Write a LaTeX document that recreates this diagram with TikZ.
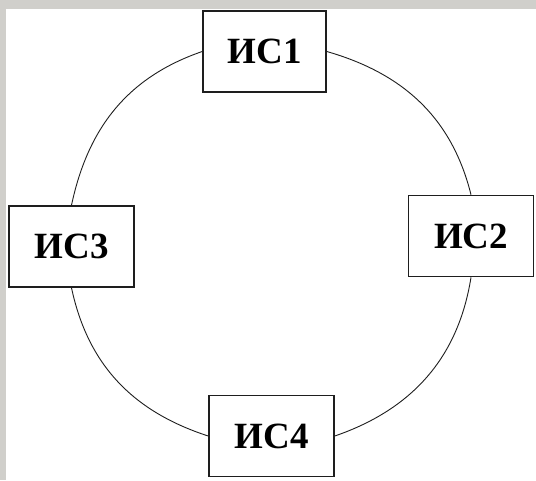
\documentclass[tikz,border=0pt]{standalone}
\usepackage{fontspec}
\setmainfont{Liberation Serif}
\usepackage{tikz}
\usetikzlibrary{positioning}
\definecolor{framegray}{RGB}{208,207,203}
\definecolor{linegray}{RGB}{30,30,30}

\begin{document}
\begin{tikzpicture}[x=1pt, y=-1pt,
        isbox/.style={draw=linegray, line width=1.6pt, fill=white, minimum width=125pt, minimum height=81pt, inner sep=0pt, font=\fontsize{37}{42}\selectfont\bfseries},
        ring/.style={draw=linegray, line width=0.9pt}]
        \useasboundingbox (0,0) rectangle (536,480);
        \fill[framegray] (0,0) rectangle (536,480);
        \fill[white] (6,9) rectangle (536,480);

        \node[isbox, minimum width=123pt] (is1) at (264.5,51.5) {ИС1};
        \node[isbox] (is2) at (471,236) {ИС2};
        \node[isbox] (is3) at (71.5,246.5) {ИС3};
        \node[isbox] (is4) at (271.5,436) {ИС4};

        \draw[ring] (is1.west) to[out=199, in=78] (is3.north);
        \draw[ring] (is3.south) to[out=282, in=162] (is4.west);
        \draw[ring] (is4.east) to[out=19, in=261] (is2.south);
        \draw[ring] (is2.north) to[out=104, in=344] (is1.east);
    \end{tikzpicture}
\end{document}
